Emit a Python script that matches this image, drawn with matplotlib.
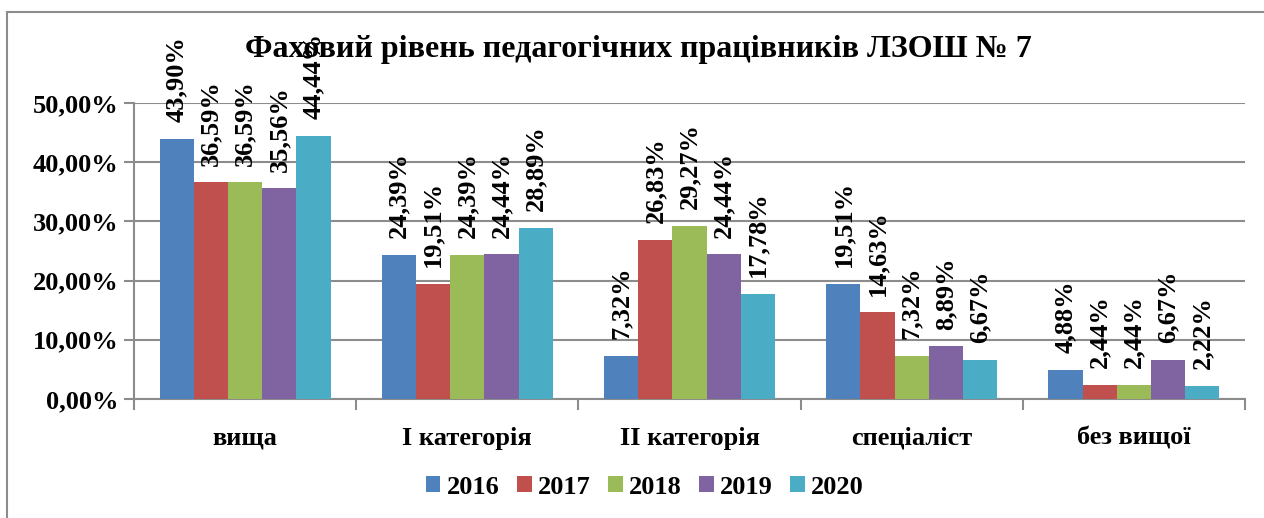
import numpy as np
import matplotlib.pyplot as plt
from matplotlib.patches import Rectangle
from matplotlib.ticker import FuncFormatter

plt.rcParams['font.family'] = ['Liberation Serif', 'DejaVu Serif']
plt.rcParams['font.weight'] = 'bold'

# Teacher qualification levels by year, percent
categories = ["вища", "І категорія", "ІІ категорія", "спеціаліст", "без вищої"]
years = ["2016", "2017", "2018", "2019", "2020"]
values = [
    [43.90, 24.39, 7.32, 19.51, 4.88],   # 2016
    [36.59, 19.51, 26.83, 14.63, 2.44],  # 2017
    [36.59, 24.39, 29.27, 7.32, 2.44],   # 2018
    [35.56, 24.44, 24.44, 8.89, 6.67],   # 2019
    [44.44, 28.89, 17.78, 6.67, 2.22],   # 2020
]
colors = ["#4F81BD", "#C0504D", "#9BBB59", "#8064A2", "#4BACC6"]

W, H = 1264, 518
fig = plt.figure(figsize=(W / 100, H / 100), dpi=100)

# outer chart frame (runs off the right and bottom edges)
fig.patches.append(Rectangle((7 / W, -0.1), 1.2, 1 - 12 / H + 0.1,
                             transform=fig.transFigure, fill=False,
                             edgecolor="#8c8c8c", linewidth=1.5))

ax = fig.add_axes([134 / W, 1 - 399 / H, (1245 - 134) / W, (399 - 103) / H])

n = len(years)
bw = 1 / (n + 1.5)
x = np.arange(len(categories))
for i, (yr, vals, c) in enumerate(zip(years, values, colors)):
    pos = x - 0.5 + 0.75 * bw + (i + 0.5) * bw
    ax.bar(pos, vals, width=bw, color=c, label=yr, zorder=3)
    for p, v in zip(pos, vals):
        ax.annotate(f"{v:.2f}%".replace(".", ","), (p, v), xytext=(0, 12),
                    textcoords="offset points", rotation=90, ha="center",
                    va="bottom", fontsize=19, fontweight="bold",
                    annotation_clip=False, zorder=4)

ax.set_xlim(-0.5, len(categories) - 0.5)
ax.set_ylim(0, 50)
ax.set_yticks(np.arange(0, 51, 10))
ax.yaxis.set_major_formatter(FuncFormatter(lambda v, _: f"{v:.2f}%".replace(".", ",")))
ax.grid(axis="y", color="#8c8c8c", linewidth=1.5, zorder=0)

ax.set_xticks(x)
ax.set_xticklabels(categories)
ax.set_xticks(np.arange(-0.5, len(categories)), minor=True)
ax.tick_params(axis="x", which="major", length=0, pad=20, labelsize=19)
ax.tick_params(axis="x", which="minor", length=8, width=1.5, color="#8c8c8c")
ax.tick_params(axis="y", length=7, width=1.5, color="#8c8c8c", labelsize=19, pad=4)

for s in ["top", "right"]:
    ax.spines[s].set_visible(False)
for s in ["left", "bottom"]:
    ax.spines[s].set_color("#8c8c8c")
    ax.spines[s].set_linewidth(1.5)

fig.text(638 / W, 1 - 50 / H, "Фаховий рівень педагогічних працівників ЛЗОШ № 7",
         ha="center", va="center", fontsize=23, fontweight="bold")

fig.legend(loc="center", bbox_to_anchor=(645 / W, 1 - 487 / H), ncol=5,
           frameon=False, fontsize=19, handlelength=0.55, handleheight=0.55,
           handletextpad=0.25, columnspacing=0.65)

fig.savefig("out.png", dpi=100)
